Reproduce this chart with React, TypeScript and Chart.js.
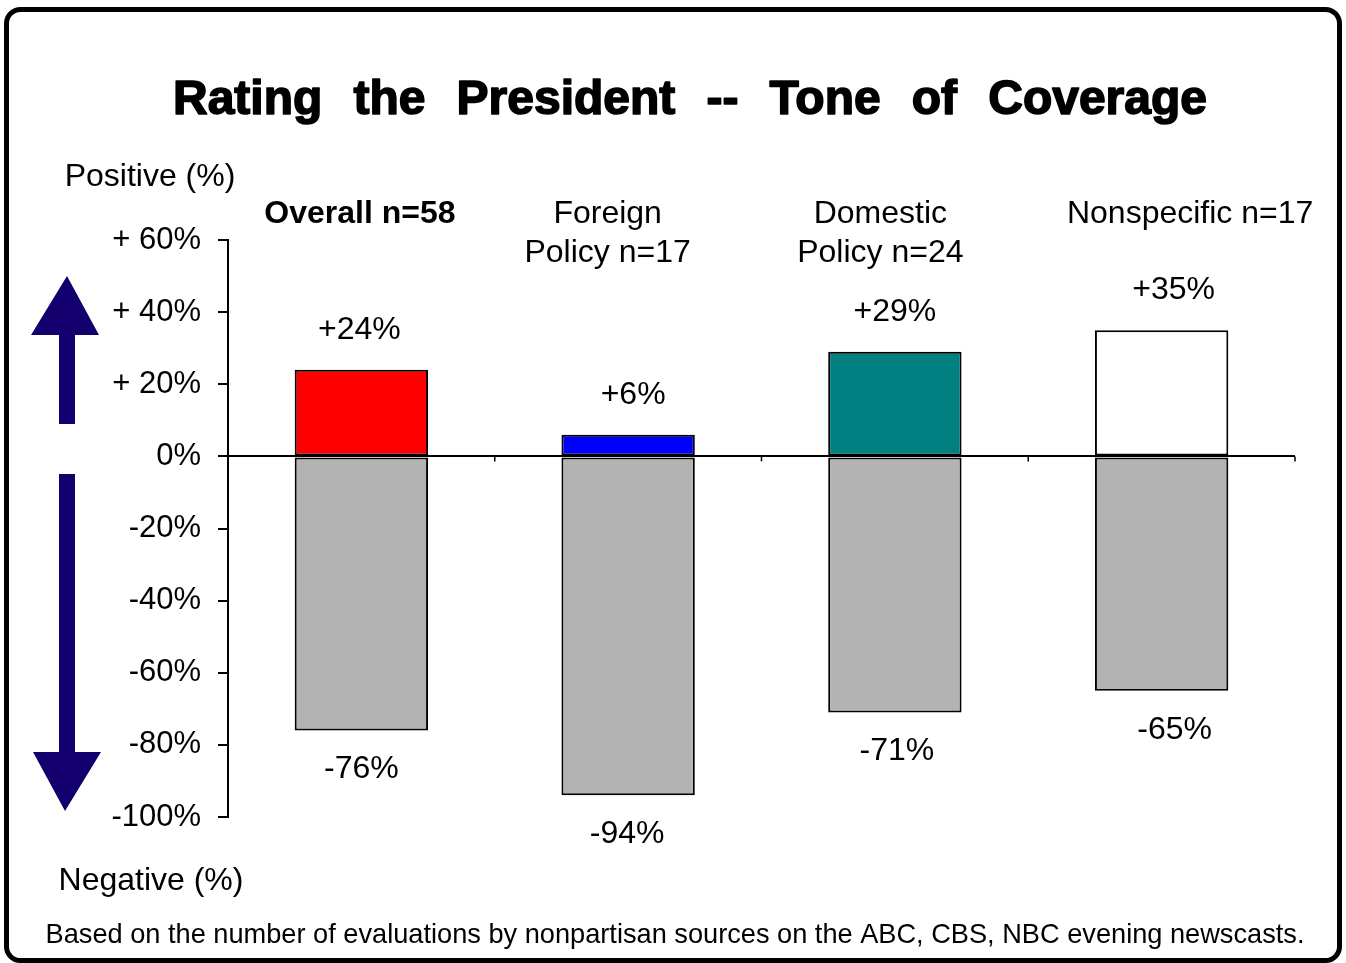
import React, { useEffect, useRef } from 'react';
import { Chart, registerables } from 'chart.js';

Chart.register(...registerables);

const categories: (string | string[])[] = ['Overall n=58', ['Foreign', 'Policy n=17'], ['Domestic', 'Policy n=24'], 'Nonspecific n=17'];
const positiveValues = [24, 6, 29, 35];
const negativeValues = [-76, -94, -71, -65];
const positiveLabels = ['+24%', '+6%', '+29%', '+35%'];
const negativeLabels = ['-76%', '-94%', '-71%', '-65%'];
const positiveColors = ['#ff0000', '#0000ff', '#008080', '#ffffff'];
const negativeColor = '#b3b3b3';
const yTickValues = [60, 40, 20, 0, -20, -40, -60, -80, -100];
const yTickLabels = ['+ 60%', '+ 40%', '+ 20%', '0%', '-20%', '-40%', '-60%', '-80%', '-100%'];
const titleWords = ['Rating', 'the', 'President', '--', 'Tone', 'of', 'Coverage'];
const positiveAxisLabel = 'Positive (%)';
const negativeAxisLabel = 'Negative (%)';
const footnote = 'Based on the number of evaluations by nonpartisan sources on the ABC, CBS, NBC evening newscasts.';

const FONT = '"Liberation Sans", Arial, sans-serif';

const decorPlugin = {
  id: 'decor',
  afterDraw(chart: any) {
    const ctx: CanvasRenderingContext2D = chart.ctx;
    const xs = chart.scales.x;
    const ys = chart.scales.y;
    ctx.save();

    // outer rounded border
    ctx.strokeStyle = '#000';
    ctx.lineWidth = 5;
    ctx.beginPath();
    (ctx as any).roundRect(6.5, 9.5, 1333, 951, 14);
    ctx.stroke();

    // title
    ctx.fillStyle = '#000';
    ctx.font = `bold 48px ${FONT}`;
    ctx.textBaseline = 'alphabetic';
    ctx.textAlign = 'left';
    const widths = titleWords.map((w) => ctx.measureText(w).width);
    const total = 1034;
    const gap = (total - widths.reduce((a, b) => a + b, 0)) / (titleWords.length - 1);
    let tx = 690 - total / 2;
    ctx.strokeStyle = '#000';
    ctx.lineWidth = 1.6;
    ctx.lineJoin = 'round';
    titleWords.forEach((w, i) => {
      ctx.fillText(w, tx, 114);
      ctx.strokeText(w, tx, 114);
      tx += widths[i] + gap;
    });

    // side labels and footnote
    ctx.textBaseline = 'middle';
    ctx.textAlign = 'center';
    ctx.font = `32px ${FONT}`;
    ctx.fillText(positiveAxisLabel, 150, 177);
    ctx.fillText(negativeAxisLabel, 151, 881);
    ctx.font = `27.2px ${FONT}`;
    ctx.fillText(footnote, 675, 936);

    // arrows
    ctx.fillStyle = '#13006e';
    ctx.beginPath();
    ctx.moveTo(67, 276);
    ctx.lineTo(99, 335);
    ctx.lineTo(75, 335);
    ctx.lineTo(75, 424);
    ctx.lineTo(59, 424);
    ctx.lineTo(59, 335);
    ctx.lineTo(31, 335);
    ctx.closePath();
    ctx.fill();
    ctx.beginPath();
    ctx.moveTo(59, 474);
    ctx.lineTo(75, 474);
    ctx.lineTo(75, 752);
    ctx.lineTo(101, 752);
    ctx.lineTo(65, 811);
    ctx.lineTo(33, 752);
    ctx.lineTo(59, 752);
    ctx.closePath();
    ctx.fill();

    // category headings
    ctx.fillStyle = '#000';
    const headDx = [-1.5, -20.5, -14.5, 28.5];
    categories.forEach((c, i) => {
      const cx = xs.getPixelForValue(i) + headDx[i];
      ctx.font = i === 0 ? `bold 32px ${FONT}` : `32px ${FONT}`;
      const lines = Array.isArray(c) ? c : [c];
      lines.forEach((l, j) => ctx.fillText(l, cx, 214 + j * 39));
    });

    // x-axis boundary ticks on zero line
    const zeroY = ys.getPixelForValue(0);
    const half = (xs.getPixelForValue(1) - xs.getPixelForValue(0)) / 2;
    ctx.strokeStyle = '#000';
    ctx.lineWidth = 1.5;
    for (let i = 0; i < categories.length; i++) {
      const bx = xs.getPixelForValue(i) + half;
      ctx.beginPath();
      ctx.moveTo(bx, zeroY);
      ctx.lineTo(bx, zeroY + 5);
      ctx.stroke();
    }

    // value labels
    ctx.font = `32px ${FONT}`;
    ctx.fillStyle = '#000';
    const posDx = [-2, 5, 0, 12];
    const negDx = [0, -1, 2, 13];
    const posMeta = chart.getDatasetMeta(0);
    const negMeta = chart.getDatasetMeta(1);
    posMeta.data.forEach((el: any, i: number) => {
      ctx.fillText(positiveLabels[i], el.x + posDx[i], el.y - 40);
    });
    negMeta.data.forEach((el: any, i: number) => {
      ctx.fillText(negativeLabels[i], el.x + negDx[i], el.y + 39);
    });

    ctx.restore();
  },
};

export default function App() {
  const ref = useRef<HTMLCanvasElement | null>(null);
  useEffect(() => {
    if (!ref.current) return;
    Chart.defaults.font.family = FONT;
    const chart = new Chart(ref.current, {
      type: 'bar',
      data: {
        labels: categories.map((c) => (Array.isArray(c) ? c.join(' ') : c)),
        datasets: [
          {
            data: positiveValues,
            backgroundColor: positiveColors,
            borderColor: '#000',
            borderWidth: 2,
            borderSkipped: false,
            barPercentage: 0.5,
            categoryPercentage: 1,
          },
          {
            data: negativeValues,
            backgroundColor: negativeColor,
            borderColor: '#000',
            borderWidth: 2,
            borderSkipped: false,
            barPercentage: 0.5,
            categoryPercentage: 1,
          },
        ],
      },
      options: {
        responsive: false,
        animation: false,
        events: [],
        layout: { padding: { top: 240, right: 51, bottom: 146, left: 0 } },
        plugins: { legend: { display: false }, tooltip: { enabled: false }, title: { display: false } },
        scales: {
          x: { type: 'category', stacked: true, display: false, offset: true },
          y: {
            stacked: true,
            min: -100,
            max: 60,
            afterFit: (s: any) => {
              s.width = 228;
            },
            afterBuildTicks: (s: any) => {
              s.ticks = yTickValues.map((v) => ({ value: v }));
            },
            ticks: {
              padding: 17,
              color: '#000',
              font: { size: 31, family: FONT },
              callback: (v: any) => yTickLabels[yTickValues.indexOf(Number(v))],
            },
            border: { display: true, color: '#000', width: 2 },
            grid: {
              color: (c: any) => (c.tick && c.tick.value === 0 ? '#000' : 'rgba(0,0,0,0)'),
              tickColor: '#000',
              tickLength: 10,
              lineWidth: 2,
            },
          },
        },
      },
      plugins: [decorPlugin],
    });
    return () => chart.destroy();
  }, []);
  return (
    <div style={{ position: 'fixed', left: 0, top: 0, width: 1346, height: 963, background: '#fff' }}>
      <canvas ref={ref} width={1346} height={963} style={{ display: 'block', width: 1346, height: 963 }} />
    </div>
  );
}
